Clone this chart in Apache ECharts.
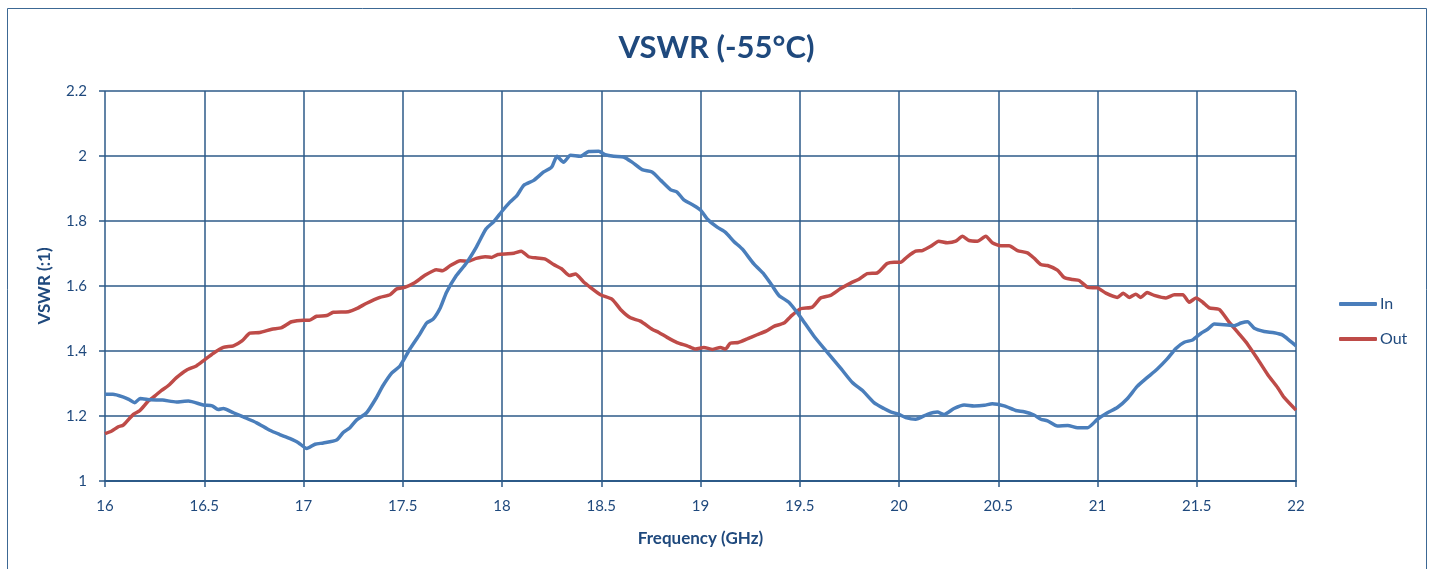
<!DOCTYPE html>
<html>
<head>
<meta charset="utf-8">
<script src="https://cdn.jsdelivr.net/npm/echarts@6/dist/echarts.min.js"></script>
<style>
  html, body { margin: 0; padding: 0; background: #ffffff; }
  #chart { width: 1433px; height: 569px; }
</style>
</head>
<body>
<div id="chart"></div>
<script>
// Input VSWR versus frequency (GHz)
const freqIn = [16.0, 16.04, 16.09, 16.12, 16.15, 16.177, 16.23, 16.29, 16.36, 16.42, 16.495, 16.54, 16.57, 16.596, 16.647, 16.697, 16.764, 16.83, 16.88, 16.93, 16.974, 17.016, 17.058, 17.10, 17.167, 17.2, 17.234, 17.268, 17.318, 17.368, 17.40, 17.444, 17.486, 17.536, 17.586, 17.62, 17.653, 17.69, 17.72, 17.77, 17.82, 17.87, 17.92, 17.96, 18.0, 18.04, 18.076, 18.11, 18.16, 18.21, 18.25, 18.277, 18.31, 18.345, 18.395, 18.437, 18.487, 18.52, 18.563, 18.613, 18.655, 18.706, 18.756, 18.80, 18.85, 18.882, 18.916, 18.966, 19.0, 19.034, 19.084, 19.126, 19.168, 19.21, 19.27, 19.32, 19.36, 19.395, 19.445, 19.479, 19.51, 19.57, 19.64, 19.71, 19.765, 19.815, 19.874, 19.924, 19.958, 20.0, 20.034, 20.084, 20.143, 20.193, 20.227, 20.277, 20.328, 20.378, 20.43, 20.47, 20.53, 20.588, 20.63, 20.68, 20.714, 20.748, 20.798, 20.85, 20.9, 20.95, 21.0, 21.05, 21.1, 21.15, 21.2, 21.25, 21.30, 21.35, 21.395, 21.437, 21.479, 21.52, 21.555, 21.588, 21.639, 21.689, 21.723, 21.756, 21.79, 21.84, 21.89, 21.933, 21.966, 22.0];
const vswrIn = [1.267, 1.267, 1.259, 1.251, 1.241, 1.254, 1.250, 1.249, 1.243, 1.246, 1.234, 1.231, 1.220, 1.223, 1.210, 1.197, 1.179, 1.156, 1.143, 1.131, 1.118, 1.100, 1.113, 1.117, 1.126, 1.149, 1.164, 1.188, 1.210, 1.257, 1.293, 1.332, 1.354, 1.406, 1.452, 1.486, 1.498, 1.534, 1.580, 1.632, 1.670, 1.719, 1.776, 1.799, 1.830, 1.858, 1.879, 1.910, 1.925, 1.951, 1.966, 1.999, 1.981, 2.002, 1.999, 2.014, 2.015, 2.004, 1.999, 1.997, 1.981, 1.958, 1.951, 1.925, 1.896, 1.889, 1.865, 1.848, 1.834, 1.806, 1.781, 1.765, 1.737, 1.714, 1.667, 1.636, 1.602, 1.571, 1.550, 1.525, 1.499, 1.447, 1.395, 1.344, 1.303, 1.279, 1.241, 1.223, 1.213, 1.205, 1.195, 1.190, 1.205, 1.212, 1.205, 1.223, 1.234, 1.231, 1.233, 1.238, 1.231, 1.217, 1.213, 1.203, 1.190, 1.185, 1.169, 1.171, 1.164, 1.164, 1.190, 1.210, 1.226, 1.253, 1.291, 1.318, 1.344, 1.375, 1.408, 1.427, 1.434, 1.454, 1.467, 1.483, 1.481, 1.478, 1.486, 1.490, 1.470, 1.460, 1.456, 1.449, 1.433, 1.416];

// Output VSWR versus frequency (GHz)
const freqOut = [16.0, 16.034, 16.067, 16.092, 16.143, 16.176, 16.218, 16.252, 16.285, 16.318, 16.36, 16.41, 16.46, 16.5, 16.546, 16.596, 16.647, 16.69, 16.73, 16.78, 16.84, 16.89, 16.94, 17.0, 17.03, 17.066, 17.117, 17.15, 17.226, 17.27, 17.318, 17.385, 17.436, 17.47, 17.51, 17.56, 17.61, 17.67, 17.70, 17.74, 17.79, 17.83, 17.87, 17.915, 17.948, 17.98, 18.03, 18.06, 18.097, 18.134, 18.176, 18.218, 18.26, 18.30, 18.34, 18.37, 18.41, 18.445, 18.496, 18.555, 18.597, 18.647, 18.697, 18.756, 18.79, 18.832, 18.882, 18.933, 18.975, 19.017, 19.06, 19.1, 19.126, 19.15, 19.19, 19.235, 19.285, 19.33, 19.37, 19.42, 19.454, 19.504, 19.563, 19.605, 19.655, 19.706, 19.756, 19.798, 19.84, 19.89, 19.94, 19.975, 20.008, 20.04, 20.084, 20.118, 20.16, 20.2, 20.244, 20.286, 20.32, 20.353, 20.395, 20.437, 20.47, 20.513, 20.555, 20.597, 20.647, 20.68, 20.714, 20.748, 20.798, 20.832, 20.874, 20.908, 20.95, 21.0, 21.042, 21.1, 21.13, 21.16, 21.193, 21.218, 21.25, 21.286, 21.345, 21.387, 21.43, 21.462, 21.496, 21.53, 21.563, 21.613, 21.664, 21.714, 21.756, 21.807, 21.857, 21.908, 21.94, 22.0];
const vswrOut = [1.146, 1.154, 1.167, 1.172, 1.205, 1.217, 1.246, 1.262, 1.279, 1.293, 1.318, 1.341, 1.354, 1.372, 1.393, 1.411, 1.416, 1.431, 1.455, 1.457, 1.467, 1.472, 1.490, 1.495, 1.495, 1.507, 1.509, 1.519, 1.521, 1.531, 1.547, 1.565, 1.573, 1.591, 1.596, 1.610, 1.632, 1.650, 1.647, 1.663, 1.678, 1.676, 1.685, 1.690, 1.688, 1.697, 1.699, 1.701, 1.707, 1.690, 1.686, 1.683, 1.666, 1.653, 1.632, 1.637, 1.613, 1.596, 1.573, 1.559, 1.528, 1.502, 1.492, 1.467, 1.457, 1.442, 1.426, 1.416, 1.406, 1.411, 1.405, 1.411, 1.406, 1.424, 1.426, 1.437, 1.450, 1.461, 1.476, 1.486, 1.506, 1.530, 1.535, 1.563, 1.571, 1.592, 1.609, 1.621, 1.638, 1.640, 1.669, 1.673, 1.673, 1.689, 1.707, 1.709, 1.722, 1.738, 1.733, 1.738, 1.753, 1.740, 1.738, 1.753, 1.733, 1.724, 1.724, 1.709, 1.702, 1.686, 1.666, 1.663, 1.649, 1.626, 1.620, 1.617, 1.596, 1.594, 1.578, 1.565, 1.578, 1.565, 1.575, 1.565, 1.580, 1.571, 1.563, 1.573, 1.573, 1.550, 1.563, 1.550, 1.533, 1.528, 1.488, 1.452, 1.421, 1.375, 1.328, 1.287, 1.257, 1.218];

// Axis settings
const xMin = 16, xMax = 22, xStep = 0.5;
const yMin = 1, yMax = 2.2, yStep = 0.2;
const seriesNames = ['In', 'Out'];

const navy = '#1f497d';
const gridColor = '#2c5a88';
const fontFamily = 'Lato, "Open Sans", sans-serif';

const pairs = (xs, ys) => xs.map((x, i) => [x, ys[i]]);

const chart = echarts.init(document.getElementById('chart'), null, { renderer: 'canvas' });
chart.setOption({
  backgroundColor: '#ffffff',
  animation: false,
  textStyle: { fontFamily: fontFamily },
  graphic: [{
    type: 'rect',
    shape: { x: 7.5, y: 8.5, width: 1419, height: 600 },
    style: { fill: 'none', stroke: '#3c6894', lineWidth: 1 },
    silent: true, z: -1
  }],
  title: {
    text: 'VSWR (-55°C)',
    left: 'center',
    top: 27,
    textStyle: { color: navy, fontSize: 31, fontWeight: 'bold', fontFamily: fontFamily }
  },
  legend: {
    orient: 'vertical',
    left: 1334,
    top: 291,
    itemWidth: 38,
    itemHeight: 4,
    itemGap: 19,
    icon: 'roundRect',
    textStyle: { color: navy, fontSize: 16, fontFamily: fontFamily, padding: [0, 0, 0, -2] },
    data: seriesNames
  },
  grid: { left: 105, right: 137, top: 91, bottom: 88, containLabel: false },
  xAxis: {
    type: 'value',
    min: xMin, max: xMax, interval: xStep,
    name: 'Frequency (GHz)',
    nameLocation: 'middle',
    nameGap: 49,
    nameTextStyle: { color: navy, fontSize: 17, fontWeight: 'bold', fontFamily: fontFamily },
    axisLine: { show: true, lineStyle: { color: gridColor, width: 2 } },
    axisTick: { show: true, length: 6, lineStyle: { color: gridColor, width: 1.5 } },
    axisLabel: { color: navy, fontSize: 15, margin: 18, fontFamily: fontFamily },
    splitLine: { show: true, lineStyle: { color: gridColor, width: 1.5 } }
  },
  yAxis: {
    type: 'value',
    min: yMin, max: yMax, interval: yStep,
    name: 'VSWR (:1)',
    nameLocation: 'middle',
    nameGap: 52,
    nameRotate: 90,
    nameTextStyle: { color: navy, fontSize: 17, fontWeight: 'bold', fontFamily: fontFamily },
    axisLine: { show: false },
    axisTick: { show: true, length: 6, lineStyle: { color: gridColor, width: 1.5 } },
    axisLabel: { color: navy, fontSize: 15, margin: 18, fontFamily: fontFamily },
    splitLine: { show: true, lineStyle: { color: gridColor, width: 1.5 } }
  },
  series: [
    {
      name: seriesNames[0],
      type: 'line',
      data: pairs(freqIn, vswrIn),
      showSymbol: false,
      symbol: 'none',
      smooth: 0.2,
      lineStyle: { color: '#4a7ebb', width: 3.5 },
      itemStyle: { color: '#4a7ebb' },
      z: 3
    },
    {
      name: seriesNames[1],
      type: 'line',
      data: pairs(freqOut, vswrOut),
      showSymbol: false,
      symbol: 'none',
      smooth: 0.2,
      lineStyle: { color: '#be4b48', width: 3.5 },
      itemStyle: { color: '#be4b48' },
      z: 2
    }
  ]
});
</script>
</body>
</html>
